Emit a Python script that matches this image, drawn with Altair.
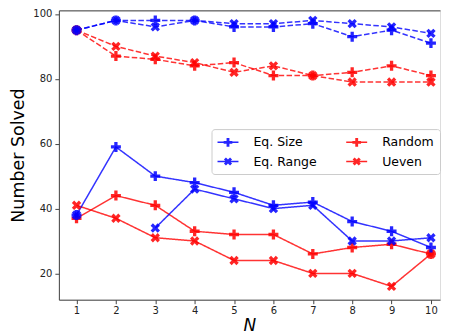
import altair as alt
import pandas as pd

# ---------------- data ----------------
N = [1, 2, 3, 4, 5, 6, 7, 8, 9, 10]
Y_TICKS = [20, 40, 60, 80, 100]

SERIES = ["Eq. Size", "Eq. Range", "Random", "Ueven"]
COLORS = {"Eq. Size": "#0000ff", "Eq. Range": "#0000ff", "Random": "#ff0000", "Ueven": "#ff0000"}
MARKERS = {"Eq. Size": "plus", "Eq. Range": "x", "Random": "plus", "Ueven": "x"}

# solid lines (lower group)
eq_size_solid = [38, 59, 50, 48, 45, 41, 42, 36, 33, 28]
eq_range_solid = [38, None, 34, 46, 43, 40, 41, 30, 30, 31]
random_solid = [37, 44, 41, 33, 32, 32, 26, 28, 29, 26]
ueven_solid = [41, 37, 31, 30, 24, 24, 20, 20, 16, 26]

# dashed lines (upper group)
eq_size_dashed = [95, 98, 98, 98, 96, 96, 97, 93, 95, 91]
eq_range_dashed = [95, 98, 96, 98, 97, 97, 98, 97, 96, 94]
random_dashed = [95, 87, 86, 84, 85, 81, 81, 82, 84, 81]
ueven_dashed = [95, 90, 87, 85, 82, 84, 81, 79, 79, 79]

SOLID = {"Eq. Size": eq_size_solid, "Eq. Range": eq_range_solid,
         "Random": random_solid, "Ueven": ueven_solid}
DASHED = {"Eq. Size": eq_size_dashed, "Eq. Range": eq_range_dashed,
          "Random": random_dashed, "Ueven": ueven_dashed}


# ---------------- marker shapes (style) ----------------
def plus_pts(a=0.33):
    return [(-a, -1), (a, -1), (a, -a), (1, -a), (1, a), (a, a), (a, 1), (-a, 1),
            (-a, a), (-1, a), (-1, -a), (-a, -a)]


def rotate45(pts):
    r = 0.70710678
    return [((x - y) * r, (x + y) * r) for x, y in pts]


def to_path(pts, s=1.0, dx=0.0):
    return "M" + " L".join(f"{x * s + dx:.3f},{y * s:.3f}" for x, y in pts) + " Z"


SHAPE_PTS = {"plus": plus_pts(), "x": rotate45(plus_pts())}
MARK_PATH = {k: to_path(v) for k, v in SHAPE_PTS.items()}
# legend glyph: short line with the marker in its middle (unit = 7px)
LINE_BAR = " M-1,-0.11 L2,-0.11 L2,0.11 L-1,0.11 Z"
LEGEND_PATH = {k: to_path(v, 0.62, 0.5) + LINE_BAR for k, v in SHAPE_PTS.items()}

# ---------------- table ----------------
rows = []
for style, table in [("solid", SOLID), ("dashed", DASHED)]:
    for name in ["Random", "Ueven", "Eq. Size", "Eq. Range"]:
        seg = 0
        for n, v in zip(N, table[name]):
            if v is None:
                seg += 1
                continue
            rows.append({"N": n, "value": v, "series": name, "style": style,
                         "seg": f"{style}-{name}-{seg}",
                         "marker": MARK_PATH[MARKERS[name]]})
df = pd.DataFrame(rows)

# ---------------- scales / axes ----------------
FONT = "DejaVu Sans"
x_scale = alt.Scale(domain=[0.552, 10.23], nice=False, zero=False)
y_scale = alt.Scale(domain=[11.9, 101.1], nice=False, zero=False)
color_scale = alt.Scale(domain=SERIES, range=[COLORS[s] for s in SERIES])
shape_scale = alt.Scale(domain=SERIES, range=[LEGEND_PATH[MARKERS[s]] for s in SERIES])

AX = dict(grid=False, domainColor="#444444", domainWidth=1, tickColor="#444444",
          tickWidth=1, labelFont=FONT, labelColor="#222222", titleFont=FONT,
          titleColor="#000000", titleFontWeight="normal")

x_axis = alt.Axis(values=N, title="N", titleFontStyle="italic", titleFontSize=17,
                  labelFontSize=10, tickSize=4, labelPadding=2, titlePadding=2, **AX)
x_axis_top = alt.Axis(orient="top", labels=False, ticks=False, title=None, **AX)
y_axis = alt.Axis(values=Y_TICKS, title="Number Solved", titleFontSize=17.5,
                  labelFontSize=10, tickSize=4, labelPadding=3, titlePadding=5, **AX)

legend = alt.Legend(title=None, orient="none", legendX=153, legendY=119, columns=2,
                    symbolSize=196, symbolStrokeWidth=0, symbolOpacity=0.85,
                    labelFont=FONT, labelFontSize=12.5, labelColor="#000000",
                    labelOffset=22, columnPadding=29, rowPadding=5.5, padding=6,
                    strokeColor="#cccccc", fillColor="#ffffff", cornerRadius=3)

lines = alt.Chart(df).mark_line(strokeWidth=1.5, opacity=0.8).encode(
    x=alt.X("N:Q", scale=x_scale, axis=x_axis),
    y=alt.Y("value:Q", scale=y_scale, axis=y_axis),
    color=alt.Color("series:N", scale=color_scale, legend=None),
    strokeDash=alt.StrokeDash("style:N",
                              scale=alt.Scale(domain=["solid", "dashed"],
                                              range=[[1, 0], [5.5, 2.4]]),
                              legend=None),
    detail="seg:N",
)

points = alt.Chart(df).mark_point(filled=True, size=100, opacity=0.85, strokeWidth=0).encode(
    x=alt.X("N:Q", scale=x_scale, axis=None),
    y=alt.Y("value:Q", scale=y_scale, axis=y_axis),
    color=alt.Color("series:N", scale=color_scale, legend=None),
    shape=alt.Shape("marker:N", scale=None),
)

legend_layer = alt.Chart(df).transform_filter("false").mark_point(
    filled=True, opacity=0.85, strokeWidth=0).encode(
    x=alt.X("N:Q", scale=x_scale, axis=x_axis_top),
    y=alt.Y("value:Q", scale=y_scale, axis=y_axis),
    color=alt.Color("series:N", scale=color_scale, legend=legend),
    shape=alt.Shape("series:N", scale=shape_scale, legend=legend),
)

chart = (
    alt.layer(lines, points, legend_layer)
    .resolve_axis(x="independent")
    .resolve_legend(color="independent", shape="independent")
    .properties(width=382, height=290,
                padding={"left": 1, "top": 0, "right": 0, "bottom": 0})
    .configure_view(stroke=None)
    .configure(font=FONT)
)

chart.save("out.html", embed_options={"renderer": "svg", "actions": False})
